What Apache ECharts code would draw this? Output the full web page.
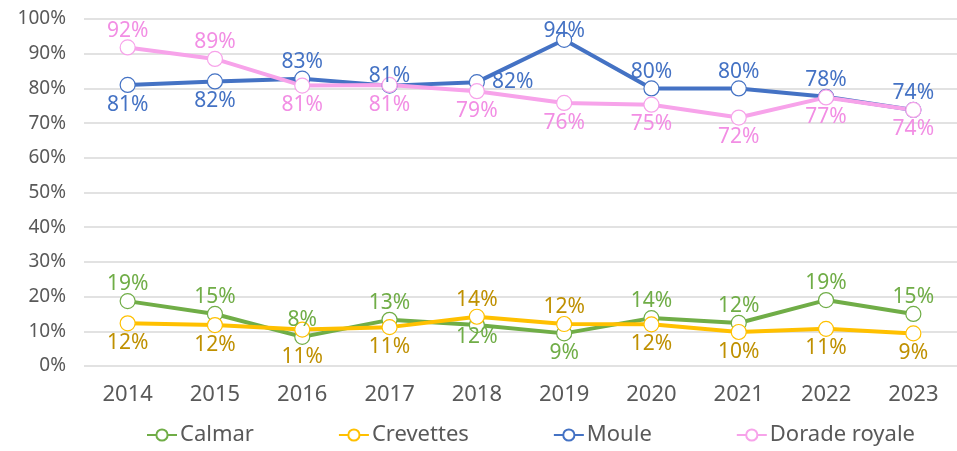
<!DOCTYPE html>
<html lang="fr">
<head>
    <meta charset="UTF-8">
    <title>Chart</title>
    <style>
        body { margin: 0; background: #fff; }
        #main { width: 957px; height: 451px; }
    </style>
</head>
<body>
    <div id="main"></div>
    <script src="https://cdn.jsdelivr.net/npm/echarts@6/dist/echarts.min.js"></script>
    <script>
        // données
        var years = ['2014', '2015', '2016', '2017', '2018', '2019', '2020', '2021', '2022', '2023'];
        var calmar = [18.7, 15.0, 8.4, 13.3, 11.8, 9.4, 13.8, 12.4, 19.0, 15.0];
        var crevettes = [12.3, 11.8, 10.5, 11.2, 14.2, 12.1, 12.0, 9.8, 10.7, 9.4];
        var moule = [81.0, 82.0, 82.8, 80.8, 81.8, 94.0, 80.0, 80.0, 77.6, 73.8];
        var dorade = [91.8, 88.5, 80.8, 81.0, 79.2, 75.8, 75.3, 71.6, 77.4, 73.8];

        // position des étiquettes
        var calmarPos = ['top', 'top', 'top', 'top', 'bottom', 'bottom', 'top', 'top', 'top', 'top'];
        var crevettesPos = ['bottom', 'bottom', 'bottom', 'bottom', 'top', 'top', 'bottom', 'bottom', 'bottom', 'bottom'];
        var moulePos = ['bottom', 'bottom', 'top', 'top', 'right', 'top', 'top', 'top', 'top', 'top'];
        var doradePos = ['top', 'top', 'bottom', 'bottom', 'bottom', 'bottom', 'bottom', 'bottom', 'bottom', 'bottom'];

        // écarts particuliers des étiquettes (index -> distance)
        var calmarDist = { 4: -7 };
        var crevettesDist = { 2: 9 };
        var mouleDist = { 3: -9, 4: 7, 5: -10 };
        var doradeDist = {};

        var font = 'Noto Sans';

        function makeSeries(name, values, positions, dist, color, labelColor) {
            return {
                name: name,
                type: 'line',
                data: values.map(function (v, i) {
                    var d = dist[i] !== undefined ? dist[i] : (positions[i] === 'top' ? -2 : 1);
                    return { value: v, label: { position: positions[i], distance: d } };
                }),
                symbol: 'circle',
                symbolSize: 15,
                lineStyle: { color: color, width: 4 },
                itemStyle: { color: '#fff', borderColor: color, borderWidth: 1.2 },
                label: {
                    show: true,
                    color: labelColor,
                    fontFamily: font,
                    fontSize: 21,
                    formatter: function (p) { return Math.round(p.value) + '%'; }
                },
                emphasis: { disabled: true },
                animation: false
            };
        }

        var chart = echarts.init(document.getElementById('main'));
        var option = {
            grid: { left: 84, right: 0, top: 19, bottom: 85 },
            legend: {
                bottom: 0,
                left: 141,
                itemGap: 84,
                itemWidth: 30,
                itemHeight: 14,
                textStyle: { color: '#595959', fontFamily: font, fontSize: 22, padding: [0, 0, 0, -2] },
                data: ['Calmar', 'Crevettes', 'Moule', 'Dorade royale']
            },
            xAxis: {
                type: 'category',
                data: years,
                boundaryGap: true,
                axisLine: { show: false },
                axisTick: { show: false },
                axisLabel: { color: '#595959', fontFamily: font, fontSize: 22, margin: 18 }
            },
            yAxis: {
                type: 'value',
                min: 0,
                max: 100,
                interval: 10,
                axisLabel: {
                    color: '#595959', fontFamily: font, fontSize: 19, margin: 18,
                    formatter: '{value}%'
                },
                splitLine: { lineStyle: { color: '#d9d9d9', width: 1.5 } }
            },
            series: [
                makeSeries('Calmar', calmar, calmarPos, calmarDist, '#70ad47', '#70ad47'),
                makeSeries('Crevettes', crevettes, crevettesPos, crevettesDist, '#ffc000', '#bf9000'),
                makeSeries('Moule', moule, moulePos, mouleDist, '#4472c4', '#4472c4'),
                makeSeries('Dorade royale', dorade, doradePos, doradeDist, '#f7a3ea', '#f28ee4')
            ]
        };
        chart.setOption(option);
    </script>
</body>
</html>
